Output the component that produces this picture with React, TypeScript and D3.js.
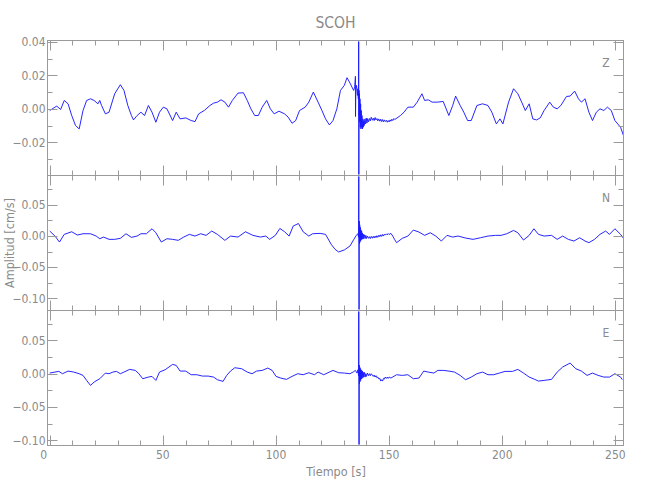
import React from "react";
import * as d3 from "d3";

// ---------------- data ----------------
const chartTitle = "SCOH";
const xAxisTitle = "Tiempo [s]";
const yAxisTitle = "Amplitud [cm/s]";
const channelNames = ["Z", "N", "E"];

// Z component: time (s) and amplitude (cm/s)
const zTime = [
  0, 2.3, 3.1, 4.8, 6.4, 8.1, 9.7, 11.4, 13.0, 14.7, 16.3, 18.0, 19.6, 21.3, 22.1, 22.9, 24.6, 26.2, 28.7, 31.2,
  32.8, 34.5, 36.1, 37.0, 38.6, 40.3, 41.9, 43.6, 45.2, 46.9, 48.5, 50.2, 51.8, 54.3, 55.9, 57.6, 60.1, 62.5, 64.2, 65.8,
  68.3, 70.8, 72.4, 74.1, 75.7, 77.4, 79.0, 80.7, 83.2, 85.6, 87.3, 88.9, 90.6, 92.2, 93.9, 95.9, 97.5, 99.2, 101.3, 103.8,
  105.4, 107.1, 108.7, 110.4, 112.9, 114.5, 116.5, 118.6, 120.3, 121.9, 123.6, 125.2, 126.9, 128.5, 130.2, 131.4, 132.7, 134.3, 134.8, 135.1,
  135.15, 135.3, 135.6, 136.0, 136.2, 136.4, 136.5, 136.55, 136.6, 136.7, 136.8, 136.9, 137.0, 137.1, 137.25, 137.4, 137.55, 137.7, 137.85, 138.0,
  138.2, 138.4, 138.6, 138.8, 139.0, 139.3, 139.6, 139.9, 140.2, 140.5, 140.9, 141.3, 141.7, 142.1, 142.6, 143.0, 143.4, 143.8, 144.2, 144.6,
  145.0, 145.4, 145.9, 146.3, 146.7, 147.1, 147.5, 147.9, 148.3, 148.8, 149.2, 149.6, 150.0, 150.4, 150.8, 151.2, 151.6, 152.1, 152.5, 155.0,
  156.6, 158.3, 160.7, 162.4, 164.5, 165.7, 167.3, 169.0, 171.5, 173.9, 176.4, 178.1, 179.4, 181.4, 183.0, 184.7, 186.3, 188.8, 191.3, 193.7,
  195.4, 197.4, 199.0, 200.3, 202.8, 205.0, 206.9, 208.6, 210.2, 211.9, 213.5, 215.2, 216.8, 218.5, 221.0, 222.6, 224.3, 225.9, 228.4, 230.0,
  232.0, 233.7, 235.0, 236.6, 238.3, 239.9, 241.6, 243.2, 244.9, 246.5, 248.2, 249.8, 252.3, 253.6,
];
const zAmp = [
  -0.001, 0.001, 0.0016, -0.0004, 0.005, 0.003, -0.004, -0.01, -0.012, -0.001, 0.005, 0.006, 0.005, 0.003, 0.005, 0.002, -0.003, -0.002, 0.009, 0.0144,
  0.011, 0.002, -0.004, -0.0066, -0.004, -0.002, -0.004, 0.002, -0.002, -0.008, -0.002, 0.001, 0.0, -0.007, -0.002, -0.006, -0.0054, -0.007, -0.0076, -0.003,
  -0.001, 0.002, 0.0034, 0.004, 0.0054, 0.004, 0.001, 0.005, 0.0094, 0.0096, 0.005, 0.0, -0.004, -0.004, 0.001, 0.005, 0.0, -0.003, -0.0014, -0.003,
  -0.005, -0.0086, -0.007, -0.001, 0.001, 0.004, 0.01, 0.004, -0.001, -0.006, -0.0096, -0.007, 0.0, 0.011, 0.014, 0.0186, 0.0154, 0.011, 0.013, 0.0194,
  -0.0046, 0.012, 0.014, 0.008, 0.012, 0.006, 0.01, 0.09, -0.09, 0.011, -0.004, 0.009, -0.008, 0.006, -0.011, 0.003, -0.012, -0.001, -0.011, -0.004,
  -0.012, -0.006, -0.011, -0.007, -0.01, -0.006, -0.009, -0.0055, -0.0085, -0.0058, -0.0078, -0.0058, -0.0072, -0.005, -0.0068, -0.0056, -0.007, -0.0052, -0.0066, -0.0058,
  -0.0072, -0.006, -0.0074, -0.0062, -0.0076, -0.0064, -0.0078, -0.0066, -0.0076, -0.0068, -0.008, -0.007, -0.0078, -0.0066, -0.0074, -0.0062, -0.007, -0.0058, -0.0064, -0.004,
  -0.002, 0.001, 0.001, 0.004, 0.009, 0.005, 0.0054, 0.004, 0.004, 0.0044, -0.004, 0.002, 0.0076, 0.002, -0.002, -0.007, -0.007, 0.002, 0.003, 0.002,
  -0.002, -0.009, -0.006, -0.009, 0.004, 0.012, 0.009, 0.004, -0.001, 0.003, -0.006, -0.0066, -0.0054, -0.001, 0.004, 0.001, 0.0, 0.002, 0.0074, 0.0076,
  0.0106, 0.006, 0.004, 0.006, -0.002, -0.007, -0.002, 0.0, -0.001, 0.001, -0.001, -0.007, -0.011, -0.016,
];

// N component
const nTime = [
  0, 2.3, 4.3, 6.4, 9.7, 12.2, 14.7, 18.0, 20.5, 22.1, 23.8, 26.2, 28.7, 31.2, 33.7, 36.1, 38.6, 40.3, 42.7, 45.2,
  46.9, 49.3, 51.8, 54.3, 56.8, 59.2, 61.7, 64.2, 66.7, 69.1, 71.6, 74.1, 77.4, 79.9, 83.2, 86.5, 89.8, 93.1, 95.5, 97.2,
  99.7, 101.7, 103.8, 105.8, 107.6, 109.9, 112.0, 114.5, 116.2, 119.5, 121.9, 124.4, 126.1, 127.7, 130.2, 132.7, 134.3, 135.5, 136.2, 136.5,
  136.6, 136.7, 136.8, 136.9, 137.0, 137.1, 137.25, 137.4, 137.55, 137.7, 137.85, 138.0, 138.2, 138.4, 138.6, 138.8, 139.1, 139.4, 139.7, 140.0,
  140.4, 140.9, 141.3, 141.7, 142.1, 142.6, 143.0, 143.4, 143.8, 144.2, 144.6, 145.0, 145.5, 145.9, 146.3, 146.7, 147.1, 147.5, 147.9, 148.3,
  148.8, 149.2, 149.6, 150.0, 150.8, 151.6, 152.5, 153.3, 155.8, 158.3, 160.7, 163.2, 165.7, 168.2, 170.6, 173.1, 175.6, 178.1, 180.5, 183.8,
  187.1, 190.4, 193.7, 197.0, 199.5, 202.0, 205.0, 206.9, 209.4, 211.9, 214.0, 216.0, 218.5, 221.8, 224.3, 226.7, 229.2, 231.7, 234.2, 236.6,
  238.3, 240.8, 243.2, 245.7, 247.4, 249.8, 252.3, 253.6,
];
const nAmp = [
  0.008, 0.0, -0.0096, 0.0027, 0.0069, 0.0016, 0.0037, 0.0037, 0.0, -0.0043, -0.0016, -0.0053, -0.0053, -0.0037, 0.0037, -0.0021, 0.0, 0.0037, 0.0037, 0.0117,
  0.0053, -0.0096, -0.0043, -0.0053, -0.0069, -0.0016, 0.0027, 0.0, 0.0037, 0.0011, 0.008, 0.0027, -0.0069, 0.0, -0.0016, 0.0069, 0.0011, -0.0016, 0.0, -0.0053,
  0.0011, 0.0122, 0.0069, 0.0, 0.016, 0.0202, 0.0069, 0.0, 0.0037, 0.0043, 0.0027, -0.0133, -0.0213, -0.0255, -0.0223, -0.016, -0.006, 0.001, 0.004, -0.002,
  0.2, -0.2, 0.024, -0.012, 0.018, -0.01, 0.014, -0.008, 0.01, -0.006, 0.008, -0.005, 0.005, -0.005, 0.003, -0.004, 0.002, -0.004, 0.001, -0.004,
  0.0, -0.0037, -0.001, -0.004, -0.0005, -0.0035, -0.0005, -0.003, 0.0, -0.0025, 0.0005, -0.002, 0.0015, -0.001, 0.002, -0.0005, 0.0025, 0.0, 0.003, 0.0015,
  0.0035, 0.002, 0.004, 0.0025, 0.0043, 0.0, -0.006, -0.0106, -0.0037, 0.0, 0.0096, 0.0064, 0.0011, 0.0053, 0.0, -0.008, 0.0011, -0.0016, 0.0, -0.0032,
  -0.0053, -0.0027, 0.0, 0.0011, 0.0011, 0.0037, 0.009, 0.0053, -0.0064, 0.0011, 0.0117, 0.0027, 0.0, 0.0011, -0.0053, 0.0, -0.0053, -0.008, -0.0027, -0.008,
  -0.0106, -0.0053, 0.0027, 0.008, 0.0027, 0.0117, 0.0027, -0.0037,
];

// E component
const eTime = [
  0, 2.3, 4.0, 5.6, 8.1, 10.6, 13.0, 14.7, 16.3, 18.0, 19.6, 22.1, 24.6, 26.2, 27.9, 29.5, 31.2, 32.8, 35.3, 37.8,
  39.4, 41.1, 43.6, 45.2, 46.9, 48.5, 51.0, 54.3, 55.9, 57.6, 60.1, 62.5, 65.0, 67.5, 70.0, 72.4, 74.1, 76.6, 78.2, 79.9,
  81.8, 84.8, 87.3, 89.4, 91.4, 93.9, 96.4, 98.3, 100.0, 102.1, 104.6, 107.1, 109.6, 112.0, 114.5, 117.0, 118.6, 121.1, 123.6, 125.2,
  127.7, 130.2, 132.7, 134.3, 135.1, 135.8, 136.2, 136.5, 136.6, 136.7, 136.8, 136.9, 137.0, 137.1, 137.25, 137.4, 137.55, 137.7, 137.85, 138.0,
  138.2, 138.4, 138.6, 138.8, 139.1, 139.4, 139.7, 140.0, 140.4, 140.9, 141.3, 141.7, 142.1, 142.6, 143.0, 143.4, 143.8, 144.2, 144.6, 145.0,
  145.5, 145.9, 146.3, 146.7, 147.1, 147.5, 147.9, 148.3, 148.8, 149.2, 149.6, 150.0, 150.8, 153.3, 155.8, 158.3, 160.7, 163.2, 165.3, 167.3,
  169.8, 171.5, 173.9, 176.4, 178.9, 181.4, 183.8, 186.3, 188.8, 191.3, 193.7, 196.2, 198.7, 201.2, 204.5, 206.9, 209.4, 211.9, 214.4, 216.0,
  218.5, 221.8, 224.3, 226.7, 230.0, 232.5, 235.0, 237.5, 239.9, 242.4, 244.9, 247.4, 249.8, 252.3, 253.1,
];
const eAmp = [
  0.001, 0.0025, 0.0035, 0.0, 0.004, 0.0025, 0.0, -0.0025, -0.01, -0.0175, -0.0125, -0.0075, 0.001, 0.0, 0.0025, 0.0035, 0.0, 0.0025, 0.0065, 0.005,
  0.0, -0.0075, -0.005, -0.004, -0.01, 0.0025, 0.006, 0.014, 0.0125, 0.004, 0.004, -0.0015, -0.0015, -0.0035, -0.0035, -0.005, -0.009, -0.0115, -0.0025, 0.004,
  0.009, 0.0075, 0.0025, 0.0, 0.004, 0.005, 0.0085, 0.005, -0.004, -0.0065, -0.0085, -0.004, 0.0, -0.0015, 0.0015, -0.0015, 0.0025, -0.0015, 0.0025, 0.005,
  0.0015, 0.001, 0.0, 0.003, 0.005, 0.001, 0.006, -0.003, 0.2, -0.2, 0.013, -0.015, 0.01, -0.012, 0.008, -0.01, 0.006, -0.008, 0.005, -0.007,
  0.004, -0.006, 0.002, -0.005, 0.002, -0.005, 0.0, -0.004, 0.001, -0.003, 0.0, -0.003, 0.0, -0.002, -0.004, -0.002, -0.005, -0.003, -0.006, -0.005,
  -0.008, -0.007, -0.011, -0.009, -0.011, -0.007, -0.008, -0.005, -0.007, -0.005, -0.007, -0.005, -0.0065, -0.0015, -0.0025, -0.0015, -0.0075, -0.0065, 0.004, 0.0025,
  0.001, 0.005, 0.005, 0.004, 0.0025, -0.0025, -0.009, -0.005, 0.0, 0.0025, -0.0015, -0.0015, 0.001, 0.0035, 0.0035, 0.0065, 0.001, -0.005, -0.0085, -0.011,
  -0.01, -0.0085, 0.0025, 0.01, 0.016, 0.0075, 0.004, -0.0025, 0.001, -0.0025, -0.005, -0.005, 0.0, -0.005, -0.009,
];

const xMajorTicks = [0, 50, 100, 150, 200, 250];
const xMinorTicks = [0, 10, 20, 30, 40, 50, 60, 70, 80, 90, 100, 110, 120, 130, 140, 150, 160, 170, 180, 190, 200, 210, 220, 230, 240, 250];
const zMajorTicks = [-0.02, 0.0, 0.02, 0.04];
const zMinorTicks = [-0.03, -0.02, -0.01, 0.0, 0.01, 0.02, 0.03, 0.04];
const nMajorTicks = [-0.1, -0.05, 0.0, 0.05];
const nMinorTicks = [-0.1, -0.075, -0.05, -0.025, 0.0, 0.025, 0.05, 0.075];
const eMajorTicks = [-0.1, -0.05, 0.0, 0.05];
const eMinorTicks = [-0.1, -0.075, -0.05, -0.025, 0.0, 0.025, 0.05, 0.075];

const timeRange = [-1.0, 253.6];
const zRange = [-0.0398, 0.0408];
const nRange = [-0.1195, 0.0972];
const eRange = [-0.1076, 0.0948];

// ---------------- layout ----------------
const W = 650;
const H = 500;
const LEFT = 47.5;
const RIGHT = 623.5;
const PANEL_TOPS = [40.5, 175.5, 310.5];
const PANEL_H = 135;
const AXIS = "#9a9a9a";
const TEXT = "#8a8a8a";
const LINE = "#1a1aff";
const FONT = "'Liberation Sans Narrow', 'DejaVu Sans Condensed', 'Liberation Sans', Arial, sans-serif";

const fmt = (v: number) => {
  const s = Math.abs(v).toFixed(2);
  return v < -1e-9 ? "\u2212" + s : s;
};

type PanelProps = {
  idx: number;
  name: string;
  time: number[];
  amp: number[];
  range: number[];
  major: number[];
  minor: number[];
  showX: boolean;
};

function Panel({ idx, name, time, amp, range, major, minor, showX }: PanelProps) {
  const top = PANEL_TOPS[idx];
  const bottom = top + PANEL_H;
  const x = d3.scaleLinear().domain(timeRange).range([LEFT, RIGHT]);
  const y = d3.scaleLinear().domain(range).range([bottom, top]);
  const pts: [number, number][] = time.map((t, i) => [t, amp[i]]);
  const line = d3
    .line<[number, number]>()
    .x((d) => x(d[0]))
    .y((d) => y(d[1]));
  const clipId = `clip-${idx}`;
  const isMajorX = (t: number) => xMajorTicks.includes(t);
  const isMajorY = (v: number) => major.some((m) => Math.abs(m - v) < 1e-9);
  return (
    <g>
      <defs>
        <clipPath id={clipId}>
          <rect x={LEFT} y={top + 1} width={RIGHT - LEFT} height={PANEL_H - 2} />
        </clipPath>
      </defs>
      <path d={line(pts) || ""} fill="none" stroke={LINE} strokeWidth={0.95} clipPath={`url(#${clipId})`} />
      <rect x={LEFT} y={top} width={RIGHT - LEFT} height={PANEL_H} fill="none" stroke={AXIS} strokeWidth={1} />
      {xMinorTicks.map((t) => {
        const len = isMajorX(t) ? 10 : 5;
        const px = Math.round(x(t)) + 0.5;
        return (
          <g key={`xt${t}`}>
            <line x1={px} x2={px} y1={top} y2={top + len} stroke={AXIS} />
            <line x1={px} x2={px} y1={bottom} y2={bottom - len} stroke={AXIS} />
          </g>
        );
      })}
      {minor.map((v) => {
        const len = isMajorY(v) ? 10 : 5;
        const py = Math.round(y(v)) + 0.5;
        return (
          <g key={`yt${v}`}>
            <line x1={LEFT} x2={LEFT + len} y1={py} y2={py} stroke={AXIS} />
            <line x1={RIGHT} x2={RIGHT - len} y1={py} y2={py} stroke={AXIS} />
          </g>
        );
      })}
      {major.map((v) => (
        <text
          key={`yl${v}`}
          x={LEFT - 2}
          y={y(v) + 4.2}
          textAnchor="end"
          fontSize={12}
          fontFamily={FONT}
          fill={TEXT}
        >
          {fmt(v)}
        </text>
      ))}
      <text x={606} y={top + 26.5} textAnchor="middle" fontSize={12} fontFamily={FONT} fill={TEXT}>
        {name}
      </text>
      {showX &&
        xMajorTicks.map((t) => (
          <text
            key={`xl${t}`}
            x={t === 0 ? x(t) - 6 : x(t)}
            y={bottom + 13}
            textAnchor="middle"
            fontSize={12}
            fontFamily={FONT}
            fill={TEXT}
          >
            {t}
          </text>
        ))}
    </g>
  );
}

export default function App() {
  const channels = [
    { time: zTime, amp: zAmp, range: zRange, major: zMajorTicks, minor: zMinorTicks },
    { time: nTime, amp: nAmp, range: nRange, major: nMajorTicks, minor: nMinorTicks },
    { time: eTime, amp: eAmp, range: eRange, major: eMajorTicks, minor: eMinorTicks },
  ];
  return (
    <svg
      width={W}
      height={H}
      viewBox={`0 0 ${W} ${H}`}
      style={{ position: "absolute", left: 0, top: 0, background: "#fff" }}
    >
      <rect x={0} y={0} width={W} height={H} fill="#fff" />
      <text x={335.5} y={28} textAnchor="middle" fontSize={15.5} fontFamily={FONT} fill={TEXT}>
        {chartTitle}
      </text>
      {channels.map((c, i) => (
        <Panel
          key={channelNames[i]}
          idx={i}
          name={channelNames[i]}
          time={c.time}
          amp={c.amp}
          range={c.range}
          major={c.major}
          minor={c.minor}
          showX={i === 2}
        />
      ))}
      <text x={336} y={476} textAnchor="middle" fontSize={12.5} fontFamily={FONT} fill={TEXT}>
        {xAxisTitle}
      </text>
      <text
        transform={`translate(14, 243) rotate(-90)`}
        textAnchor="middle"
        fontSize={12.5}
        fontFamily={FONT}
        fill={TEXT}
      >
        {yAxisTitle}
      </text>
    </svg>
  );
}
